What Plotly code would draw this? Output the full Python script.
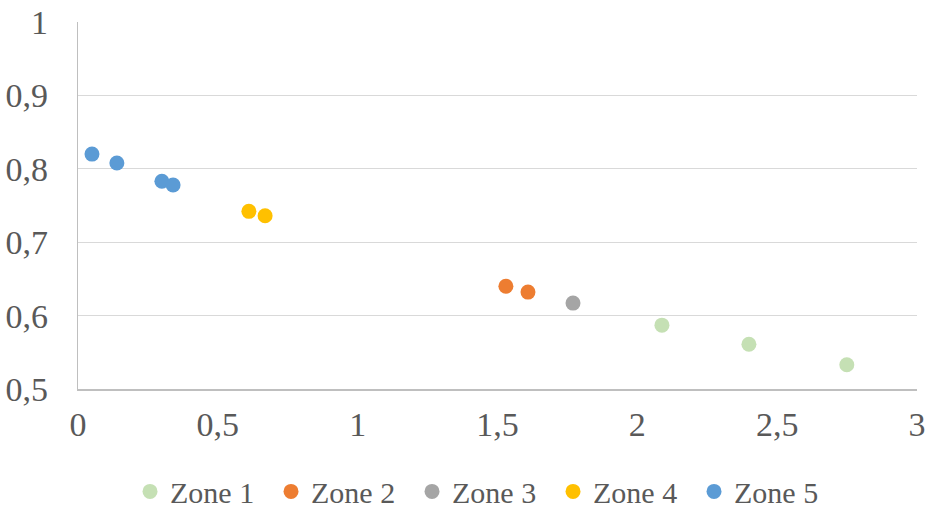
import plotly.graph_objects as go

zones = ["Zone 1", "Zone 2", "Zone 3", "Zone 4", "Zone 5"]
colors = ["#C5E0B4", "#ED7D31", "#A5A5A5", "#FFC000", "#5B9BD5"]
x_vals = [
    [2.088, 2.399, 2.749],
    [1.530, 1.609],
    [1.770],
    [0.611, 0.669],
    [0.050, 0.139, 0.300, 0.340],
]
y_vals = [
    [0.587, 0.561, 0.533],
    [0.640, 0.632],
    [0.617],
    [0.742, 0.736],
    [0.820, 0.808, 0.783, 0.778],
]
x_ticks = [0, 0.5, 1, 1.5, 2, 2.5, 3]
y_ticks = [0.5, 0.6, 0.7, 0.8, 0.9, 1]

fig = go.Figure()
for name, c, xs, ys in zip(zones, colors, x_vals, y_vals):
    fig.add_trace(go.Scatter(x=xs, y=ys, mode="markers", name=name,
                             marker=dict(color=c, size=15, line=dict(width=0))))

font = dict(family="Liberation Serif, Times New Roman, serif", size=34, color="#595959")
legend_font = dict(family="Liberation Serif, Times New Roman, serif", size=30, color="#595959")
fig.update_layout(
    width=927, height=511,
    margin=dict(l=78, r=10, t=22, b=122, autoexpand=False),
    plot_bgcolor="white", paper_bgcolor="white",
    separators=", ",
    font=font,
    showlegend=True,
    legend=dict(orientation="h", x=0.062, xanchor="left", y=-0.279, yanchor="middle",
                font=legend_font, itemwidth=30, entrywidth=96, traceorder="normal"),
    xaxis=dict(range=[0, 3], tickvals=x_ticks, showgrid=False, zeroline=False,
               showline=True, linecolor="#BFBFBF", linewidth=1.5, ticks="",
               ticklabelstandoff=4, tickfont=font, automargin=False),
    yaxis=dict(range=[0.5, 1], tickvals=y_ticks, showgrid=True, gridcolor="#D9D9D9",
               gridwidth=1.3, zeroline=False, showline=True, linecolor="#BFBFBF",
               linewidth=1.3, ticks="", ticklabelstandoff=22, tickfont=font,
               automargin=False),
)
fig.write_html("out.html", config={"displayModeBar": False},
               post_script="document.body.style.margin='0';")
